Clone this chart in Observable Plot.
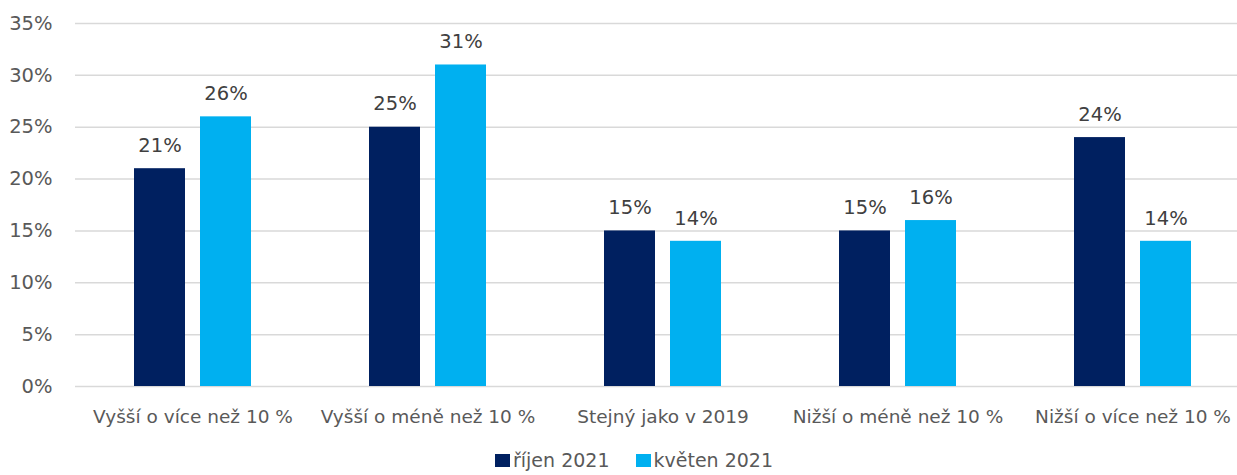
<!DOCTYPE html>
<html>
<head>
<meta charset="utf-8">
<script src="https://cdn.jsdelivr.net/npm/d3@7"></script>
<script src="https://cdn.jsdelivr.net/npm/@observablehq/plot@0.6"></script>
<style>
  html, body { margin: 0; padding: 0; background: #fff; }
  #chart { width: 1237px; height: 475px; position: relative; font-family: "DejaVu Sans", sans-serif; }
  .legend { display: flex; align-items: center; margin-left: 495px; height: 40px; font-size: 19px; color: #595959; }
  .legend .item { display: flex; align-items: center; margin-right: 26px; }
  .legend .sw { width: 15px; height: 13px; margin-right: 3px; }
</style>
</head>
<body>
<div id="chart"></div>
<script>
const categories = ["Vyšší o více než 10 %", "Vyšší o méně než 10 %", "Stejný jako v 2019", "Nižší o méně než 10 %", "Nižší o více než 10 %"];
const seriesNames = ["říjen 2021", "květen 2021"];
const rijen2021 = [21, 25, 15, 15, 24];
const kveten2021 = [26, 31, 14, 16, 14];
const seriesColors = ["#002060", "#00B0F0"];
const yTicks = [0, 5, 10, 15, 20, 25, 30, 35];

const data = [];
categories.forEach((c, i) => {
  data.push({category: c, series: seriesNames[0], value: rijen2021[i]});
  data.push({category: c, series: seriesNames[1], value: kveten2021[i]});
});

const plot = Plot.plot({
  width: 1237,
  height: 440,
  marginLeft: 75,
  marginRight: 0,
  marginTop: 23,
  marginBottom: 54,
  style: {fontFamily: "'DejaVu Sans', sans-serif", fontSize: "18px", color: "#595959", background: "#fff"},
  fx: {domain: categories, range: [75, 1250], padding: 0, label: null},
  x: {domain: seriesNames, paddingInner: 0.22, paddingOuter: 0.87, axis: null},
  y: {domain: [0, 35], label: null},
  color: {domain: seriesNames, range: seriesColors},
  marks: [
    Plot.ruleY(yTicks, {stroke: "#d9d9d9", strokeWidth: 1.5}),
    Plot.barY(data, {fx: "category", x: "series", y: "value", fill: "series"}),
    Plot.text(data, {fx: "category", x: "series", y: "value", text: d => d.value + "%", dy: -23, fill: "#404040", fontSize: 19.5}),
    Plot.axisY({ticks: yTicks, tickFormat: d => d + "%", tickSize: 0, tickPadding: 23, label: null, fontSize: 19.5, fill: "#595959"}),
    Plot.axisFx({anchor: "bottom", tickSize: 0, tickPadding: 23, label: null, fontSize: 18.5, fill: "#595959"})
  ]
});
document.getElementById("chart").appendChild(plot);

const legend = document.createElement("div");
legend.className = "legend";
seriesNames.forEach((s, i) => {
  const item = document.createElement("div");
  item.className = "item";
  const sw = document.createElement("span");
  sw.className = "sw";
  sw.style.background = seriesColors[i];
  const label = document.createElement("span");
  label.textContent = s;
  item.appendChild(sw);
  item.appendChild(label);
  legend.appendChild(item);
});
document.getElementById("chart").appendChild(legend);
</script>
</body>
</html>
